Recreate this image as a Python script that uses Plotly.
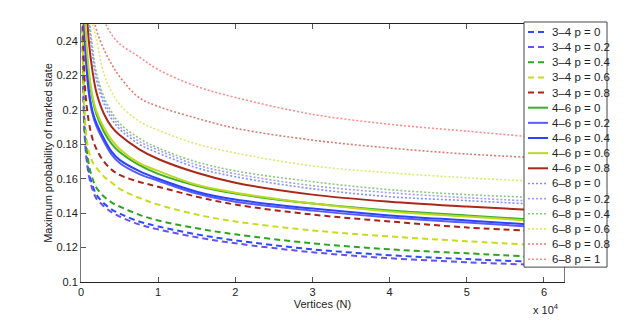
import plotly.graph_objects as go

# ── 데이터 ──
N_VALUES = [200, 500, 1000, 1500, 2000, 3000, 4000, 5000, 7500, 10000,
            15000, 20000, 30000, 40000, 50000, 60000]

# 3-4 (dashed)
P34_00 = [0.260, 0.1860, 0.1646, 0.1560, 0.1508, 0.1456, 0.1421, 0.1398, 0.1352, 0.1323, 0.1277, 0.1242, 0.1190, 0.1156, 0.1133, 0.1115]
P34_02 = [0.255, 0.1831, 0.1623, 0.1537, 0.1485, 0.1439, 0.1404, 0.1381, 0.1335, 0.1306, 0.1260, 0.1225, 0.1173, 0.1138, 0.1115, 0.1098]
P34_04 = [0.265, 0.1917, 0.1687, 0.1600, 0.1548, 0.1496, 0.1462, 0.1439, 0.1392, 0.1358, 0.1312, 0.1277, 0.1225, 0.1190, 0.1167, 0.1144]
P34_06 = [0.270, 0.1958, 0.1762, 0.1698, 0.1664, 0.1612, 0.1577, 0.1542, 0.1490, 0.1450, 0.1392, 0.1352, 0.1300, 0.1265, 0.1237, 0.1213]
P34_08 = [0.290, 0.2148, 0.1935, 0.1831, 0.1773, 0.1698, 0.1652, 0.1623, 0.1583, 0.1554, 0.1496, 0.1450, 0.1392, 0.1352, 0.1317, 0.1294]

# 4-6 (solid)
P46_00 = [0.300, 0.2494, 0.2206, 0.2062, 0.1975, 0.1871, 0.1802, 0.1756, 0.1681, 0.1629, 0.1560, 0.1514, 0.1456, 0.1415, 0.1387, 0.1358]
P46_02 = [0.300, 0.2408, 0.2102, 0.1975, 0.1906, 0.1814, 0.1739, 0.1692, 0.1629, 0.1589, 0.1514, 0.1467, 0.1415, 0.1375, 0.1346, 0.1317]
P46_04 = [0.300, 0.2437, 0.2119, 0.1992, 0.1923, 0.1831, 0.1756, 0.1710, 0.1646, 0.1600, 0.1525, 0.1479, 0.1427, 0.1387, 0.1358, 0.1329]
P46_06 = [0.305, 0.2552, 0.2235, 0.2079, 0.1992, 0.1894, 0.1825, 0.1773, 0.1692, 0.1646, 0.1565, 0.1519, 0.1456, 0.1410, 0.1381, 0.1352]
P46_08 = [0.330, 0.2850, 0.2408, 0.2223, 0.2102, 0.1975, 0.1900, 0.1854, 0.1773, 0.1715, 0.1635, 0.1577, 0.1508, 0.1467, 0.1439, 0.1415]

# 6-8 (dotted)
P68_00 = [0.340, 0.2940, 0.2523, 0.2321, 0.2177, 0.2033, 0.1946, 0.1889, 0.1802, 0.1750, 0.1664, 0.1612, 0.1542, 0.1496, 0.1473, 0.1450]
P68_02 = [0.342, 0.2970, 0.2552, 0.2344, 0.2200, 0.2056, 0.1969, 0.1906, 0.1819, 0.1767, 0.1681, 0.1629, 0.1560, 0.1519, 0.1490, 0.1467]
P68_04 = [0.344, 0.3000, 0.2581, 0.2362, 0.2217, 0.2073, 0.1987, 0.1923, 0.1837, 0.1779, 0.1698, 0.1646, 0.1583, 0.1537, 0.1508, 0.1490]
P68_06 = [0.350, 0.3100, 0.2812, 0.2523, 0.2408, 0.2206, 0.2102, 0.2033, 0.1935, 0.1883, 0.1802, 0.1750, 0.1675, 0.1635, 0.1606, 0.1583]
P68_08 = [0.370, 0.3300, 0.2900, 0.2581, 0.2466, 0.2350, 0.2264, 0.2194, 0.2073, 0.2021, 0.1952, 0.1894, 0.1825, 0.1779, 0.1744, 0.1721]
P68_10 = [0.400, 0.3600, 0.3100, 0.2900, 0.2750, 0.2523, 0.2437, 0.2385, 0.2310, 0.2235, 0.2137, 0.2073, 0.1975, 0.1917, 0.1877, 0.1837]

LABELS = ["3–4 p = 0", "3–4 p = 0.2", "3–4 p = 0.4", "3–4 p = 0.6", "3–4 p = 0.8",
          "4–6 p = 0", "4–6 p = 0.2", "4–6 p = 0.4", "4–6 p = 0.6", "4–6 p = 0.8",
          "6–8 p = 0", "6–8 p = 0.2", "6–8 p = 0.4", "6–8 p = 0.6", "6–8 p = 0.8", "6–8 p = 1"]
SERIES = [P34_00, P34_02, P34_04, P34_06, P34_08,
          P46_00, P46_02, P46_04, P46_06, P46_08,
          P68_00, P68_02, P68_04, P68_06, P68_08, P68_10]

X_TICKS = [0, 10000, 20000, 30000, 40000, 50000, 60000]
X_TICK_TEXT = ["0", "1", "2", "3", "4", "5", "6"]
Y_TICKS = [0.1, 0.12, 0.14, 0.16, 0.18, 0.2, 0.22, 0.24]
Y_TICK_TEXT = ["0.1", "0.12", "0.14", "0.16", "0.18", "0.2", "0.22", "0.24"]

# ── 스타일 ──
COLORS = ["#2b4bff", "#6652f2", "#2fa51e", "#c8dc1e", "#a8241a",
          "#3cae2a", "#5a5cff", "#2846ff", "#bcd820", "#a8281c",
          "#8290ff", "#a09cff", "#8ac87e", "#dcea72", "#dc7c70", "#ff8c8c"]
DASH_34 = "6px,4px"
DOT_68 = "2px,2px"


def line_style(i):
    if i < 5:
        return dict(color=COLORS[i], width=2, dash=DASH_34)
    if i < 10:
        return dict(color=COLORS[i], width=2, dash="solid")
    return dict(color=COLORS[i], width=1.6, dash=DOT_68)


fig = go.Figure()
for i, ys in enumerate(SERIES):
    fig.add_trace(go.Scatter(
        x=N_VALUES, y=ys, mode="lines", name=LABELS[i],
        line=dict(shape="spline", smoothing=1.0, **line_style(i)),
        showlegend=False, hoverinfo="name+x+y",
    ))

# ── 범례 (수동) ──
L, R, T, B = 81, 564, 24, 284
pw, ph = R - L, B - T


def px_x(px):
    return (px - L) / pw


def px_y(py):
    return (B - py) / ph


shapes = [dict(type="rect", xref="paper", yref="paper",
               x0=px_x(524), x1=px_x(607), y0=px_y(269), y1=px_y(22),
               fillcolor="white", line=dict(color="#444", width=1), layer="above")]
annotations = []
for i, lab in enumerate(LABELS):
    yc = 32 + i * 15.27
    st = line_style(i)
    shapes.append(dict(type="line", xref="paper", yref="paper",
                       x0=px_x(528), x1=px_x(548), y0=px_y(yc), y1=px_y(yc),
                       line=st, layer="above"))
    annotations.append(dict(text=lab, xref="paper", yref="paper",
                            x=px_x(550), y=px_y(yc), xanchor="left", yanchor="middle",
                            showarrow=False, font=dict(size=11.5, color="#222")))

annotations.append(dict(text="x 10<sup>4</sup>", xref="paper", yref="paper",
                        x=px_x(546), y=px_y(311), xanchor="center", yanchor="middle",
                        showarrow=False, font=dict(size=11, color="#222")))

fig.update_layout(
    width=623, height=320,
    margin=dict(l=L, r=623 - R, t=T, b=320 - B),
    paper_bgcolor="white", plot_bgcolor="white",
    font=dict(family="Liberation Sans, Arial, sans-serif", size=11, color="#222"),
    shapes=shapes, annotations=annotations,
    showlegend=False,
)
fig.update_xaxes(
    range=[0, 62600], tickvals=X_TICKS, ticktext=X_TICK_TEXT,
    ticks="inside", ticklen=5, tickcolor="#555", showgrid=False, zeroline=False,
    showline=True, linecolor="#222", linewidth=1, mirror="ticks",
    title=dict(text="Vertices (N)", standoff=2, font=dict(size=11)),
)
fig.update_yaxes(
    range=[0.1, 0.25], tickvals=Y_TICKS, ticktext=Y_TICK_TEXT,
    ticks="inside", ticklen=5, tickcolor="#555", showgrid=False, zeroline=False,
    showline=True, linecolor="#777", linewidth=1, mirror="ticks",
    title=dict(text="Maximum probability of marked state", standoff=1, font=dict(size=11)),
)

# 페이지 기본 여백 제거, 모드바 숨김
fig.write_html("out.html", config={"displayModeBar": False},
               post_script="document.body.style.margin='0';")
